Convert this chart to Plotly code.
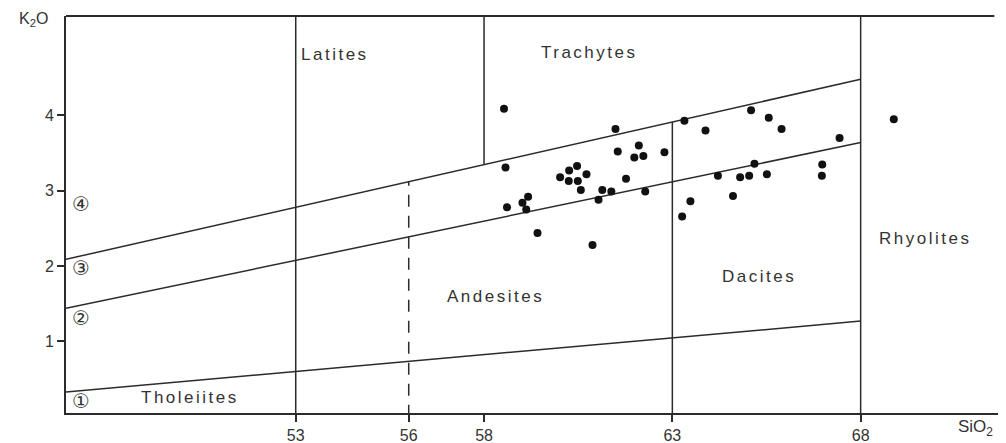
import plotly.graph_objects as go

# Sample data (SiO2, K2O)
sio2 = [58.53, 61.49, 61.55, 58.57, 60.47, 60.26, 60.72, 60.02, 60.25, 60.49,
        60.57, 61.14, 61.38, 59.17, 59.02, 61.04, 58.61, 59.12, 59.42, 60.88,
        63.32, 63.88, 62.11, 61.99, 62.23, 62.79, 61.77, 62.28, 64.21, 64.80,
        63.48, 64.61, 63.26, 65.09, 65.56, 65.90, 67.44, 68.88, 65.18, 66.98,
        65.04, 65.51, 66.97]
k2o = [4.09, 3.82, 3.52, 3.31, 3.33, 3.27, 3.22, 3.18, 3.13, 3.13,
       3.01, 3.01, 2.99, 2.92, 2.84, 2.88, 2.78, 2.75, 2.44, 2.28,
       3.93, 3.80, 3.60, 3.44, 3.46, 3.51, 3.16, 2.99, 3.20, 3.18,
       2.86, 2.93, 2.66, 4.07, 3.97, 3.82, 3.70, 3.95, 3.36, 3.35,
       3.20, 3.22, 3.20]

# Boundary lines (SiO2 endpoints, K2O endpoints)
line_x = [46.9, 68]
line_upper = [2.09, 4.48]
line_middle = [1.44, 3.64]
line_lower = [0.33, 1.27]

x_ticks = [53, 56, 58, 63, 68]
y_ticks = [1, 2, 3, 4]

region_names = ["Latites", "Trachytes", "Rhyolites", "Dacites", "Andesites", "Tholeiites"]
region_x = [54.05, 60.8, 69.7, 65.3, 58.3, 50.2]
region_y = [4.81, 4.84, 2.36, 1.86, 1.60, 0.25]

series_labels = ["①", "②", "③", "④"]
series_label_y = [0.21, 1.31, 1.97, 2.83]

INK = "#2b2b2b"
TXT = "#333333"
fig = go.Figure()

def upper_at(x):
    return line_upper[0] + (line_upper[1] - line_upper[0]) * (x - line_x[0]) / (line_x[1] - line_x[0])

for ys in (line_upper, line_middle, line_lower):
    fig.add_trace(go.Scatter(x=line_x, y=ys, mode="lines",
                             line=dict(color=INK, width=1.5), hoverinfo="skip"))

# vertical divisions
fig.add_trace(go.Scatter(x=[53, 53], y=[0, 5.4], mode="lines", line=dict(color=INK, width=1.5)))
fig.add_trace(go.Scatter(x=[68, 68], y=[0, 5.4], mode="lines", line=dict(color=INK, width=1.5)))
fig.add_trace(go.Scatter(x=[58, 58], y=[upper_at(58), 5.4], mode="lines", line=dict(color=INK, width=1.5)))
fig.add_trace(go.Scatter(x=[63, 63], y=[0, upper_at(63)], mode="lines", line=dict(color=INK, width=1.5)))
fig.add_trace(go.Scatter(x=[56, 56], y=[0, upper_at(56)], mode="lines",
                         line=dict(color=INK, width=1.5, dash="12px,9px")))

fig.add_trace(go.Scatter(x=sio2, y=k2o, mode="markers",
                         marker=dict(color="#111111", size=8)))

for name, x, y in zip(region_names, region_x, region_y):
    fig.add_annotation(x=x, y=y, text='<span style="letter-spacing:2.5px">%s</span>' % name,
                       showarrow=False, font=dict(family="Liberation Sans", size=17, color=TXT))

for lab, y in zip(series_labels, series_label_y):
    fig.add_annotation(x=47.3, y=y, text=lab, showarrow=False,
                       font=dict(family="DejaVu Sans", size=20, color=TXT))

fig.add_annotation(xref="paper", yref="paper", x=-0.035, y=0.99, xanchor="center", yanchor="middle",
                   text="K<sub>2</sub>O", showarrow=False,
                   font=dict(family="Liberation Sans", size=16, color=TXT))
fig.add_annotation(xref="paper", yref="paper", x=0.974, y=-0.038, xanchor="center", yanchor="middle",
                   text="SiO<sub>2</sub>", showarrow=False,
                   font=dict(family="Liberation Sans", size=17, color=TXT))

# top border
fig.add_shape(type="line", xref="x", yref="paper", x0=46.9, x1=71.55, y0=1, y1=1,
              line=dict(color=INK, width=2))

fig.update_layout(
    width=1006, height=443, showlegend=False,
    paper_bgcolor="white", plot_bgcolor="white",
    margin=dict(l=58, r=14, t=8, b=38),
    xaxis=dict(range=[46.9, 71.7], tickvals=x_ticks, ticks="outside", ticklen=7,
               tickwidth=1.5, tickcolor=INK, showline=True, linecolor=INK, linewidth=2,
               showgrid=False, zeroline=False,
               tickfont=dict(family="Liberation Sans", size=16, color=TXT)),
    yaxis=dict(range=[0.05, 5.32], tickvals=y_ticks, ticks="outside", ticklen=7,
               tickwidth=1.5, tickcolor=INK, showline=True, linecolor=INK, linewidth=2,
               showgrid=False, zeroline=False,
               tickfont=dict(family="Liberation Sans", size=16, color=TXT)),
)

fig.write_html("out.html")
